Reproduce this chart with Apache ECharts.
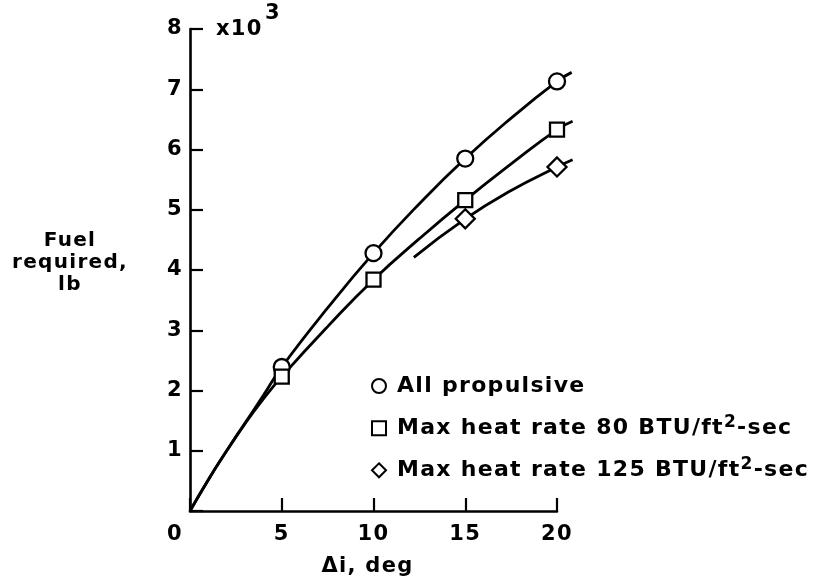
<!DOCTYPE html>
<html>
<head>
<meta charset="utf-8">
<script src="https://cdn.jsdelivr.net/npm/echarts@6/dist/echarts.min.js"></script>
<style>
html,body{margin:0;padding:0;background:#fff;}
#chart{width:833px;height:583px;}
</style>
</head>
<body>
<div id="chart"></div>
<script>
// Slightly wider letter spacing to imitate the wide typeface of the original
(function(){
  var P = CanvasRenderingContext2D.prototype;
  if (!('letterSpacing' in P)) return;
  var d = Object.getOwnPropertyDescriptor(P, 'font');
  if (!d || !d.set) return;
  Object.defineProperty(P, 'font', {
    configurable: true,
    get: function(){ return d.get.call(this); },
    set: function(v){ d.set.call(this, v); try { this.letterSpacing = '1.3px'; } catch(e){} }
  });
})();

// ---- data ----
const seriesNames = ['All propulsive', 'Max heat rate 80 BTU/ft²-sec', 'Max heat rate 125 BTU/ft²-sec'];

// measured points (Δi deg, fuel ×10³ lb)
const allPropPts  = [[5, 2.39], [10, 4.28], [15, 5.85], [20, 7.13]];
const heat80Pts   = [[5, 2.23], [10, 3.84], [15, 5.16], [20, 6.33]];
const heat125Pts  = [[15, 4.85], [20, 5.71]];

// faired curves (they run a little past the last tick)
const allPropCurve = [[0, 0], [1, 0.52], [2, 1.0], [3, 1.46], [4, 1.92], [5, 2.39], [7.5, 3.37], [10, 4.28], [12.5, 5.1], [15, 5.85], [17.5, 6.52], [20, 7.13], [20.8, 7.28]];
const heat80Curve  = [[0, 0], [1, 0.52], [2, 1.0], [3, 1.45], [4, 1.86], [5, 2.23], [7.5, 3.06], [10, 3.84], [12.5, 4.52], [15, 5.16], [17.5, 5.76], [20, 6.33], [20.85, 6.47]];
const heat125Curve = [[12.2, 4.21], [15, 4.85], [17.5, 5.32], [20, 5.71], [20.85, 5.83]];

const xTicks = [0, 5, 10, 15, 20];
const yTicks = [0, 1, 2, 3, 4, 5, 6, 7, 8];
const xDataMax = 21;   // data grid runs a little past the drawn axis

// ---- chart ----
const FONT = 'DejaVu Sans';
const chart = echarts.init(document.getElementById('chart'), null, {renderer: 'canvas'});

const GL = 190, GTOP = 29, GB = 72, GW = 367;
const xMax = xTicks[xTicks.length - 1];
const dataW = GW * xDataMax / xMax;

function curveSeries(name, data) {
  return {
    name: name, type: 'line', data: data, symbol: 'none', smooth: 0.5,
    xAxisIndex: 1, yAxisIndex: 1,
    clip: false, silent: true, z: 2,
    lineStyle: {color: '#000', width: 2.8}
  };
}
function pointSeries(name, data, symbol, size) {
  return {
    name: name, type: 'scatter', data: data, symbol: symbol, symbolSize: size, z: 5, silent: true,
    xAxisIndex: 1, yAxisIndex: 1,
    itemStyle: {color: '#fff', borderColor: '#000', borderWidth: 2.3, opacity: 1}
  };
}

const labelStyle = {fontFamily: FONT, fontWeight: 'bold', fontSize: 21, color: '#000'};

chart.setOption({
  animation: false,
  backgroundColor: '#fff',
  grid: [
    {left: GL, width: GW, top: GTOP, bottom: GB},
    {left: GL, width: dataW, top: GTOP, bottom: GB}
  ],
  xAxis: [{
    gridIndex: 0,
    type: 'value', min: xTicks[0], max: xMax, interval: 5,
    splitLine: {show: false},
    axisLine: {lineStyle: {color: '#000', width: 2.6}},
    axisTick: {inside: true, length: 13, lineStyle: {color: '#000', width: 2.2}},
    axisLabel: Object.assign({}, labelStyle, {
      margin: 12,
      formatter: function(v){ return v === 0 ? '{z|0}' : String(v); },
      rich: {z: Object.assign({}, labelStyle, {padding: [0, 30, 0, 0]})}
    }),
    name: 'Δi, deg', nameLocation: 'middle', nameGap: 44,
    nameTextStyle: {fontFamily: FONT, fontWeight: 'bold', fontSize: 21, color: '#000', padding: [0, 12, 0, 0]}
  }, {
    gridIndex: 1, type: 'value', min: xTicks[0], max: xDataMax, show: false
  }],
  yAxis: [{
    gridIndex: 0,
    type: 'value', min: yTicks[0], max: yTicks[yTicks.length - 1], interval: 1,
    splitLine: {show: false},
    axisLine: {lineStyle: {color: '#000', width: 2.6}},
    axisTick: {inside: true, length: 13, lineStyle: {color: '#000', width: 2.2}},
    axisLabel: Object.assign({}, labelStyle, {
      margin: 7,
      formatter: function(v){ return v === 0 ? '' : String(v); }
    })
  }, {
    gridIndex: 1, type: 'value', min: yTicks[0], max: yTicks[yTicks.length - 1], show: false
  }],
  legend: {
    orient: 'vertical', left: 366, top: 368,
    itemWidth: 14, itemHeight: 14, itemGap: 14,
    selectedMode: false,
    data: [
      {name: seriesNames[0], icon: 'circle'},
      {name: seriesNames[1], icon: 'rect'},
      {name: seriesNames[2], icon: 'diamond'}
    ],
    itemStyle: {color: '#fff', borderColor: '#000', borderWidth: 2},
    formatter: function(n){ return n.replace('²', '{sup|2}'); },
    textStyle: {
      fontFamily: FONT, fontWeight: 'bold', fontSize: 22, color: '#000', lineHeight: 26,
      padding: [0, 0, 0, 6],
      rich: {sup: {fontFamily: FONT, fontWeight: 'bold', fontSize: 17, color: '#000', padding: [0, 0, 12, 0]}}
    }
  },
  graphic: [
    {type: 'text', x: 70, y: 230, silent: true,
     style: {text: 'Fuel\nrequired,\nlb', align: 'center', verticalAlign: 'top', fontFamily: FONT, fontWeight: 'bold', fontSize: 20, lineHeight: 22, fill: '#000'}},
    {type: 'text', x: 216, y: 30, silent: true,
     style: {text: 'x10', fontFamily: FONT, fontWeight: 'bold', fontSize: 21, fill: '#000', verticalAlign: 'middle'}},
    {type: 'text', x: 265, y: 14, silent: true,
     style: {text: '3', fontFamily: FONT, fontWeight: 'bold', fontSize: 21, fill: '#000', verticalAlign: 'middle'}}
  ],
  series: [
    curveSeries('c1', allPropCurve),
    curveSeries('c2', heat80Curve),
    curveSeries('c3', heat125Curve),
    pointSeries(seriesNames[0], allPropPts, 'circle', 16),
    pointSeries(seriesNames[1], heat80Pts, 'rect', 14),
    pointSeries(seriesNames[2], heat125Pts, 'diamond', 19)
  ]
});
</script>
</body>
</html>
